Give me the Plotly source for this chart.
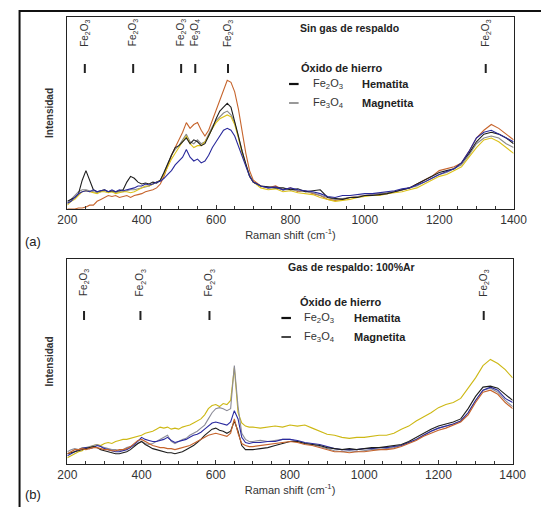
import plotly.graph_objects as go

W, H = 541, 507

# ---------------- data ----------------
wn = list(range(200, 700, 10)) + list(range(700, 1401, 20))

# panel (a): Sin gas de respaldo
a_orange = [0, 0, 0, 0.5, 0.5, 1, 2, 2, 4, 5, 6, 7, 6.5, 7, 6, 6.5, 7, 6, 7, 7.5,
            8, 9, 9.5, 10, 11, 13, 17, 23, 28, 32, 36, 40, 45, 42, 44, 45, 41, 38, 41, 46,
            52, 57, 62, 67, 66, 61, 52, 40, 29, 20,
            15, 12, 11, 12, 10, 11, 9, 9.5, 8, 7, 5, 4.5, 5, 6, 6.5, 7, 7.5, 8, 8, 9,
            10, 11, 13, 15, 17, 20, 21, 22, 24, 30, 37, 41, 44, 42, 39, 36]
a_black = [4, 5, 6, 8, 15, 20, 15, 10, 9, 9.5, 10, 9, 9.5, 9, 9.5, 10, 14, 17, 16, 14,
           13, 13.5, 13, 14, 13.5, 15, 19, 24, 28, 32, 33, 35, 37, 34, 36, 35, 33, 34, 38, 42,
           47, 51, 53, 55, 53, 46, 38, 30, 23, 17,
           14, 12, 11.5, 11, 11, 10, 10.5, 9, 9.5, 10, 6, 5.5, 5, 6, 6, 7, 7, 7.5, 8, 9,
           10, 11, 13, 15, 17, 19, 20, 21, 24, 29, 35, 39, 40, 39, 37, 34]
a_yellow = [2, 4, 5, 7, 9, 9.5, 9, 8.5, 8, 9, 9, 8.5, 9, 8, 8.5, 9, 9, 8.5, 9, 10,
            11, 12, 12, 13, 14, 15, 18, 22, 26, 29, 32, 35, 38, 34, 32, 33, 33, 35, 38, 42,
            45, 47, 48, 49, 48, 44, 37, 29, 23, 17,
            14, 11, 10, 10.5, 9, 9.5, 8.5, 8, 7.5, 6, 5, 4, 4.5, 5, 6, 6.5, 7, 7, 8, 8.5,
            9, 10, 11, 13, 15, 17, 18, 20, 22, 27, 32, 36, 37, 35, 32, 29]
a_blue = [3, 4, 6, 8, 9, 9.5, 9, 10, 9, 9.5, 10, 9, 10, 9, 10, 9.5, 10, 10.5, 11, 12,
          12, 13, 12.5, 13, 14, 14.5, 16, 18, 20, 23, 25, 27, 31, 27, 25, 26, 24, 25, 28, 32,
          35, 38, 41, 42, 41, 38, 33, 27, 22, 17,
          14, 12, 11, 11.5, 10, 11, 10, 9.5, 9, 8, 6.5, 6, 7, 7, 7.5, 8, 8, 8.5, 9, 9.5,
          10.5, 11, 12.5, 14, 16, 18, 19.5, 21, 24, 30, 37, 40, 41, 39, 37, 35]
a_gray = [3, 5, 7, 9, 10, 10, 9.5, 9, 8.5, 9, 9.5, 9, 9, 8.5, 9, 9, 9.5, 10, 10, 10.5,
          11, 11.5, 12, 13, 14, 15, 19, 24, 28, 31, 33, 36, 39, 35, 34, 36, 34, 35, 39, 43,
          46, 48, 50, 51, 49, 45, 38, 30, 23, 18,
          14, 12, 11, 11, 10, 10, 9.5, 9, 8.5, 7, 6, 5, 5.5, 6, 6.5, 7, 7.5, 8, 8.5, 9,
          10, 11, 12, 14, 16, 18, 19, 21, 23, 28, 34, 37, 38, 37, 34, 32]

# panel (b): Gas de respaldo 100%Ar
b_yellow = [3, 4, 5, 6, 6.5, 8, 8, 9, 9.5, 9, 10, 10.5, 10, 11, 11.5, 12, 12, 12.5, 13, 13.5,
            14, 15, 15.5, 16, 17, 18, 17.5, 18, 17, 17.5, 17, 18, 18.5, 19, 20, 21, 22, 24, 27, 28.5,
            29, 28, 29.5, 29, 31, 47, 25, 20, 18.5, 18,
            18, 17.5, 18, 18.5, 18, 19, 18.5, 19, 17.5, 16, 14.5, 14, 13, 12.5, 13, 13, 13.5, 14, 14, 15,
            17, 18.5, 21, 23, 25, 27.5, 29, 30, 32, 37, 42, 48, 51, 49, 46, 42]
b_gray = [6, 7, 7.5, 7, 8, 8, 8.5, 9, 9.5, 8.5, 8, 7.5, 7, 7, 6.5, 7, 8, 8.5, 9, 10,
          11, 10, 9.5, 10, 11, 12, 13, 14, 11, 10, 11, 12, 12.5, 14, 15, 16, 17.5, 19, 22, 25,
          27, 27.5, 27, 26, 27, 48, 28, 15, 12, 11,
          11, 11.5, 11, 11.5, 12, 12, 11, 10, 9.5, 8.5, 7.5, 6.5, 6, 6.5, 6, 6.5, 7, 7, 7.5, 8,
          9, 10.5, 12, 14, 16, 17.5, 18.5, 19.5, 21, 25, 31, 36, 37, 35, 31, 28]
b_blue = [4, 5, 6, 7, 7.5, 8, 7.5, 8, 9, 8.5, 7.5, 7, 6.5, 6, 6, 6.5, 7, 8, 9.5, 11,
          13, 12, 11.5, 11, 11, 11.5, 12, 13, 11.5, 10.5, 11, 11.5, 12, 13, 14, 14.5, 15.5, 17, 18.5, 20,
          20.5, 20, 19.5, 19, 20.5, 26, 22, 13, 10.5, 10,
          10.5, 10.5, 11, 11, 12, 12, 11.5, 10.5, 10, 9.5, 8.5, 7.5, 7, 7, 7, 7.5, 7.5, 8, 8, 8.5,
          9, 10.5, 12, 14, 16, 17.5, 18.5, 19.5, 21, 25, 31, 36, 37.5, 36, 32, 30]
b_black = [5, 5.5, 6, 6.5, 7, 7.5, 8, 8.5, 8, 7, 6.5, 6, 5.5, 5, 5, 5.5, 6, 7, 8.5, 10,
           11, 9.5, 8.5, 7.5, 7, 6.5, 6, 5.5, 5.5, 5, 5.5, 6, 7, 8, 9, 10.5, 12, 14, 15.5, 17,
           17.5, 16.5, 16, 15, 16, 21, 16, 9, 7, 7,
           7, 7.5, 8, 9, 10, 11, 11, 10, 9.5, 9, 8, 7.5, 7, 7.5, 7, 7.5, 8, 8, 8.5, 9,
           9.5, 11, 13, 15, 17, 18.5, 19.5, 20.5, 22, 27, 33, 37.5, 38, 37, 34, 31]
b_orange = [5, 6, 7, 7, 7.5, 7, 7.5, 8, 8, 7.5, 7, 7, 6.5, 6.5, 7, 7, 7.5, 8.5, 10, 11.5,
            12, 11, 10, 9, 8.5, 8, 8, 7.5, 7.5, 7, 7.5, 8, 8.5, 9, 10, 11, 12, 13, 14, 14.5,
            15, 14.5, 14, 13.5, 15, 22, 15, 10, 9, 8.5,
            8.5, 9, 9.5, 10, 10.5, 11, 10.5, 9.5, 9, 8, 7, 6, 6, 5.5, 6, 6, 6.5, 7, 7, 7.5,
            8.5, 10, 11.5, 13.5, 15, 16.5, 17.5, 19, 20.5, 24, 30, 35, 36, 34, 30, 27]

peaks_a = [247, 377, 506, 544, 632, 1325]
labels_a = ["Fe<sub>2</sub>O<sub>3</sub>", "Fe<sub>2</sub>O<sub>3</sub>", "Fe<sub>2</sub>O<sub>3</sub>",
            "Fe<sub>3</sub>O<sub>4</sub>", "Fe<sub>2</sub>O<sub>3</sub>", "Fe<sub>2</sub>O<sub>3</sub>"]
peaks_b = [245, 397, 583, 1322]
labels_b = ["Fe<sub>2</sub>O<sub>3</sub>"] * 4

x_ticks = [200, 400, 600, 800, 1000, 1200, 1400]

# ---------------- figure ----------------
def px(x):
    return x / W


def py(y):
    return 1 - y / H


FONT = "Liberation Sans, Arial, sans-serif"
fig = go.Figure()

series_a = [(a_orange, "#c6642c"), (a_gray, "#8a8a8a"), (a_yellow, "#dcc21a"),
            (a_black, "#1e1e1e"), (a_blue, "#2a2a9c")]
series_b = [(b_yellow, "#cdb814"), (b_gray, "#8c8c98"), (b_blue, "#2a2aa0"),
            (b_black, "#1e1e1e"), (b_orange, "#c6642c")]

for vals, col in series_a:
    fig.add_trace(go.Scatter(x=wn, y=vals, mode="lines", line=dict(color=col, width=1.1),
                             xaxis="x", yaxis="y", showlegend=False))
for vals, col in series_b:
    fig.add_trace(go.Scatter(x=wn, y=vals, mode="lines", line=dict(color=col, width=1.1),
                             xaxis="x2", yaxis="y2", showlegend=False))

xcommon = dict(range=[200, 1400], tickvals=x_ticks, ticks="inside", ticklen=4,
               tickcolor="#333", showline=True, linecolor="#222", linewidth=1, mirror=True,
               showgrid=False, zeroline=False,
               tickfont=dict(family=FONT, size=12, color="#333"),
               minor=dict(dtick=50, ticks="inside", ticklen=3, tickcolor="#333"),
               title=dict(text="Raman shift (cm<sup>-1</sup>)", standoff=3,
                          font=dict(family=FONT, size=11, color="#333")))
ycommon = dict(range=[0, 100], showticklabels=False, ticks="", showline=True,
               linecolor="#222", linewidth=1, mirror=True, showgrid=False, zeroline=False,
               title=dict(text="<b>Intensidad</b>", standoff=10,
                          font=dict(family=FONT, size=10, color="#333")))

fig.update_layout(
    width=W, height=H, margin=dict(l=0, r=0, t=0, b=0),
    paper_bgcolor="white", plot_bgcolor="white",
    xaxis=dict(domain=[px(60), px(527)], anchor="y", **xcommon),
    yaxis=dict(domain=[py(209), py(17)], anchor="x", **ycommon),
    xaxis2=dict(domain=[px(60), px(526)], anchor="y2", **xcommon),
    yaxis2=dict(domain=[py(464), py(259)], anchor="x2", **ycommon),
)

annotations = []
shapes = []

# outer frame
shapes.append(dict(type="rect", xref="paper", yref="paper", x0=px(10), y0=-0.1, x1=1.1,
                   y1=py(11), line=dict(color="#111", width=2)))


def ann(x, y, text, size=11, color="#333", xanchor="center", xref="paper", angle=0):
    annotations.append(dict(x=x, y=y, xref=xref, yref="paper", text=text, showarrow=False,
                            xanchor=xanchor, yanchor="middle", textangle=angle,
                            font=dict(family=FONT, size=size, color=color)))


def peak_marks(peaks, labels, xref, y_label, y_top, y_bot):
    for p, lab in zip(peaks, labels):
        ann(p, py(y_label), lab, size=10, xref=xref, angle=-90)
        shapes.append(dict(type="line", xref=xref, yref="paper", x0=p, x1=p,
                           y0=py(y_bot), y1=py(y_top), line=dict(color="#222", width=2)))


peak_marks(peaks_a, labels_a, "x", 33, 64, 73)
peak_marks(peaks_b, labels_b, "x2", 283, 311, 320)


def legend_block(title, title_xy, rows, dash_x, chem_x, name_x):
    ann(px(title_xy[0]), py(title_xy[1]), f"<b>{title}</b>", size=11, color="#222")
    for (chem, name, ypix, lw, col) in rows:
        shapes.append(dict(type="line", xref="paper", yref="paper", x0=px(dash_x - 5),
                           x1=px(dash_x + 5), y0=py(ypix), y1=py(ypix),
                           line=dict(color=col, width=lw)))
        ann(px(chem_x), py(ypix), chem, size=11, xanchor="left")
        ann(px(name_x), py(ypix), f"<b>{name}</b>", size=11, color="#222", xanchor="left")


legend_block("Óxido de hierro", (347, 68),
             [("Fe<sub>2</sub>O<sub>3</sub>", "Hematita", 84, 2.2, "#111"),
              ("Fe<sub>3</sub>O<sub>4</sub>", "Magnetita", 103, 1.2, "#555")],
             297, 315, 366)
legend_block("Óxido de hierro", (346, 302),
             [("Fe<sub>2</sub>O<sub>3</sub>", "Hematita", 318, 2.2, "#111"),
              ("Fe<sub>3</sub>O<sub>4</sub>", "Magnetita", 337, 1.8, "#333")],
             289, 306, 358)

# panel titles
ann(px(355), py(28), "<b>Sin gas de respaldo</b>", size=10.5, color="#222")
ann(px(357), py(267), "<b>Gas de respaldo: 100%Ar</b>", size=10.5, color="#222")
# panel letters
ann(px(14), py(241), "(a)", size=13, color="#222", xanchor="left")
ann(px(14), py(494), "(b)", size=13, color="#222", xanchor="left")

fig.update_layout(annotations=annotations, shapes=shapes)
fig.write_html("out.html")
